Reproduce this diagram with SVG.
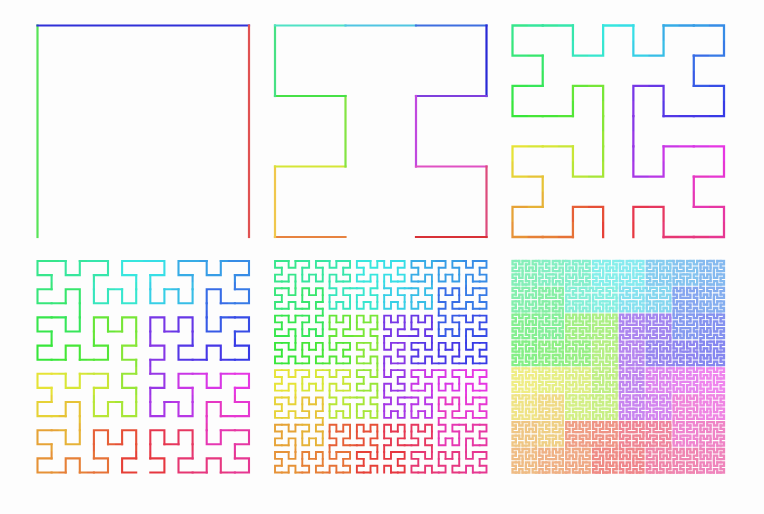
<svg xmlns="http://www.w3.org/2000/svg" xmlns:xlink="http://www.w3.org/1999/xlink" width="764" height="514" viewBox="0 0 764 514">
<style>
.p{fill:none;stroke-linecap:square;stroke-linejoin:miter}
.seg{fill:none;stroke-width:2.2;stroke-linecap:square}
</style>
<defs>
<path id="A1" class="p" d="M0,1V0H1V1"/>
<g id="A2"><use href="#A1" transform="matrix(0,-1,-1,0,1,3)"/><use href="#A1"/><use href="#A1" transform="translate(2,0)"/><use href="#A1" transform="matrix(0,1,1,0,2,2)"/><path class="p" d="M0,2V1M1,1H2M3,1V2"/></g>
<g id="A3"><use href="#A2" transform="matrix(0,-1,-1,0,3,7)"/><use href="#A2"/><use href="#A2" transform="translate(4,0)"/><use href="#A2" transform="matrix(0,1,1,0,4,4)"/><path class="p" d="M0,4V3M3,3H4M7,3V4"/></g>
<g id="A4"><use href="#A3" transform="matrix(0,-1,-1,0,7,15)"/><use href="#A3"/><use href="#A3" transform="translate(8,0)"/><use href="#A3" transform="matrix(0,1,1,0,8,8)"/><path class="p" d="M0,8V7M7,7H8M15,7V8"/></g>
<g id="A5"><use href="#A4" transform="matrix(0,-1,-1,0,15,31)"/><use href="#A4"/><use href="#A4" transform="translate(16,0)"/><use href="#A4" transform="matrix(0,1,1,0,16,16)"/><path class="p" d="M0,16V15M15,15H16M31,15V16"/></g>
<g id="M3"><use href="#A2" transform="matrix(0,-1,1,0,0,7)"/><use href="#A2" transform="matrix(0,-1,1,0,0,3)"/><use href="#A2" transform="matrix(0,1,-1,0,7,0)"/><use href="#A2" transform="matrix(0,1,-1,0,7,4)"/><path class="p" d="M3,4V3M3,0H4M4,3V4"/></g>
<g id="M4"><use href="#A3" transform="matrix(0,-1,1,0,0,15)"/><use href="#A3" transform="matrix(0,-1,1,0,0,7)"/><use href="#A3" transform="matrix(0,1,-1,0,15,0)"/><use href="#A3" transform="matrix(0,1,-1,0,15,8)"/><path class="p" d="M7,8V7M7,0H8M8,7V8"/></g>
<g id="M5"><use href="#A4" transform="matrix(0,-1,1,0,0,31)"/><use href="#A4" transform="matrix(0,-1,1,0,0,15)"/><use href="#A4" transform="matrix(0,1,-1,0,31,0)"/><use href="#A4" transform="matrix(0,1,-1,0,31,16)"/><path class="p" d="M15,16V15M15,0H16M16,15V16"/></g>
<g id="M6"><use href="#A5" transform="matrix(0,-1,1,0,0,63)"/><use href="#A5" transform="matrix(0,-1,1,0,0,31)"/><use href="#A5" transform="matrix(0,1,-1,0,63,0)"/><use href="#A5" transform="matrix(0,1,-1,0,63,32)"/><path class="p" d="M31,32V31M31,0H32M32,31V32"/></g>
<g id="field">
<rect x="0" y="0" width="1.05" height="1.05" fill="hsl(149,78%,56%)"/><rect x="1" y="0" width="1.05" height="1.05" fill="hsl(155,78%,56%)"/><rect x="2" y="0" width="1.05" height="1.05" fill="hsl(160,78%,56%)"/><rect x="3" y="0" width="1.05" height="1.05" fill="hsl(177,78%,56%)"/><rect x="4" y="0" width="1.05" height="1.05" fill="hsl(183,78%,56%)"/><rect x="5" y="0" width="1.05" height="1.05" fill="hsl(200,78%,56%)"/><rect x="6" y="0" width="1.05" height="1.05" fill="hsl(205,78%,56%)"/><rect x="7" y="0" width="1.05" height="1.05" fill="hsl(211,78%,56%)"/>
<rect x="0" y="1" width="1.05" height="1.05" fill="hsl(143,78%,56%)"/><rect x="1" y="1" width="1.05" height="1.05" fill="hsl(138,78%,56%)"/><rect x="2" y="1" width="1.05" height="1.05" fill="hsl(166,78%,56%)"/><rect x="3" y="1" width="1.05" height="1.05" fill="hsl(172,78%,56%)"/><rect x="4" y="1" width="1.05" height="1.05" fill="hsl(188,78%,56%)"/><rect x="5" y="1" width="1.05" height="1.05" fill="hsl(194,78%,56%)"/><rect x="6" y="1" width="1.05" height="1.05" fill="hsl(222,78%,56%)"/><rect x="7" y="1" width="1.05" height="1.05" fill="hsl(217,78%,56%)"/>
<rect x="0" y="2" width="1.05" height="1.05" fill="hsl(127,78%,56%)"/><rect x="1" y="2" width="1.05" height="1.05" fill="hsl(132,78%,56%)"/><rect x="2" y="2" width="1.05" height="1.05" fill="hsl(104,78%,56%)"/><rect x="3" y="2" width="1.05" height="1.05" fill="hsl(98,78%,56%)"/><rect x="4" y="2" width="1.05" height="1.05" fill="hsl(262,78%,56%)"/><rect x="5" y="2" width="1.05" height="1.05" fill="hsl(256,78%,56%)"/><rect x="6" y="2" width="1.05" height="1.05" fill="hsl(228,78%,56%)"/><rect x="7" y="2" width="1.05" height="1.05" fill="hsl(233,78%,56%)"/>
<rect x="0" y="3" width="1.05" height="1.05" fill="hsl(121,78%,56%)"/><rect x="1" y="3" width="1.05" height="1.05" fill="hsl(115,78%,56%)"/><rect x="2" y="3" width="1.05" height="1.05" fill="hsl(110,78%,56%)"/><rect x="3" y="3" width="1.05" height="1.05" fill="hsl(93,78%,56%)"/><rect x="4" y="3" width="1.05" height="1.05" fill="hsl(267,78%,56%)"/><rect x="5" y="3" width="1.05" height="1.05" fill="hsl(250,78%,56%)"/><rect x="6" y="3" width="1.05" height="1.05" fill="hsl(245,78%,56%)"/><rect x="7" y="3" width="1.05" height="1.05" fill="hsl(239,78%,56%)"/>
<rect x="0" y="4" width="1.05" height="1.05" fill="hsl(59,78%,56%)"/><rect x="1" y="4" width="1.05" height="1.05" fill="hsl(65,78%,56%)"/><rect x="2" y="4" width="1.05" height="1.05" fill="hsl(70,78%,56%)"/><rect x="3" y="4" width="1.05" height="1.05" fill="hsl(87,78%,56%)"/><rect x="4" y="4" width="1.05" height="1.05" fill="hsl(273,78%,56%)"/><rect x="5" y="4" width="1.05" height="1.05" fill="hsl(290,78%,56%)"/><rect x="6" y="4" width="1.05" height="1.05" fill="hsl(295,78%,56%)"/><rect x="7" y="4" width="1.05" height="1.05" fill="hsl(301,78%,56%)"/>
<rect x="0" y="5" width="1.05" height="1.05" fill="hsl(53,78%,56%)"/><rect x="1" y="5" width="1.05" height="1.05" fill="hsl(48,78%,56%)"/><rect x="2" y="5" width="1.05" height="1.05" fill="hsl(76,78%,56%)"/><rect x="3" y="5" width="1.05" height="1.05" fill="hsl(82,78%,56%)"/><rect x="4" y="5" width="1.05" height="1.05" fill="hsl(278,78%,56%)"/><rect x="5" y="5" width="1.05" height="1.05" fill="hsl(284,78%,56%)"/><rect x="6" y="5" width="1.05" height="1.05" fill="hsl(312,78%,56%)"/><rect x="7" y="5" width="1.05" height="1.05" fill="hsl(307,78%,56%)"/>
<rect x="0" y="6" width="1.05" height="1.05" fill="hsl(37,78%,56%)"/><rect x="1" y="6" width="1.05" height="1.05" fill="hsl(42,78%,56%)"/><rect x="2" y="6" width="1.05" height="1.05" fill="hsl(14,78%,56%)"/><rect x="3" y="6" width="1.05" height="1.05" fill="hsl(8,78%,56%)"/><rect x="4" y="6" width="1.05" height="1.05" fill="hsl(352,78%,56%)"/><rect x="5" y="6" width="1.05" height="1.05" fill="hsl(346,78%,56%)"/><rect x="6" y="6" width="1.05" height="1.05" fill="hsl(318,78%,56%)"/><rect x="7" y="6" width="1.05" height="1.05" fill="hsl(323,78%,56%)"/>
<rect x="0" y="7" width="1.05" height="1.05" fill="hsl(31,78%,56%)"/><rect x="1" y="7" width="1.05" height="1.05" fill="hsl(25,78%,56%)"/><rect x="2" y="7" width="1.05" height="1.05" fill="hsl(20,78%,56%)"/><rect x="3" y="7" width="1.05" height="1.05" fill="hsl(3,78%,56%)"/><rect x="4" y="7" width="1.05" height="1.05" fill="hsl(357,78%,56%)"/><rect x="5" y="7" width="1.05" height="1.05" fill="hsl(340,78%,56%)"/><rect x="6" y="7" width="1.05" height="1.05" fill="hsl(335,78%,56%)"/><rect x="7" y="7" width="1.05" height="1.05" fill="hsl(329,78%,56%)"/>
</g>
</defs>
<rect x="0" y="0" width="764" height="514" fill="#fdfdfd"/>

<g id="order1">
<line class="seg" x1="37.5" y1="237" x2="37.5" y2="25.5" stroke="hsl(120,72%,62%)"/>
<line class="seg" x1="37.5" y1="25.5" x2="249" y2="25.5" stroke="hsl(240,68%,52%)"/>
<line class="seg" x1="249" y1="25.5" x2="249" y2="237" stroke="hsl(0,70%,60%)"/>
</g>

<g id="order2">
<line class="seg" x1="345.5" y1="237" x2="275" y2="237" stroke="hsl(24,78%,58%)"/>
<line class="seg" x1="275" y1="237" x2="275" y2="166.5" stroke="hsl(45,85%,62%)"/>
<line class="seg" x1="275" y1="166.5" x2="345.5" y2="166.5" stroke="hsl(66,78%,56%)"/>
<line class="seg" x1="345.5" y1="166.5" x2="345.5" y2="96" stroke="hsl(96,75%,58%)"/>
<line class="seg" x1="345.5" y1="96" x2="275" y2="96" stroke="hsl(120,72%,58%)"/>
<line class="seg" x1="275" y1="96" x2="275" y2="25.5" stroke="hsl(144,72%,58%)"/>
<line class="seg" x1="275" y1="25.5" x2="345.5" y2="25.5" stroke="hsl(168,72%,60%)"/>
<line class="seg" x1="345.5" y1="25.5" x2="416" y2="25.5" stroke="hsl(192,72%,60%)"/>
<line class="seg" x1="416" y1="25.5" x2="486.5" y2="25.5" stroke="hsl(222,72%,56%)"/>
<line class="seg" x1="486.5" y1="25.5" x2="486.5" y2="96" stroke="hsl(240,68%,50%)"/>
<line class="seg" x1="486.5" y1="96" x2="416" y2="96" stroke="hsl(264,70%,56%)"/>
<line class="seg" x1="416" y1="96" x2="416" y2="166.5" stroke="hsl(288,70%,58%)"/>
<line class="seg" x1="416" y1="166.5" x2="486.5" y2="166.5" stroke="hsl(312,70%,60%)"/>
<line class="seg" x1="486.5" y1="166.5" x2="486.5" y2="237" stroke="hsl(340,68%,58%)"/>
<line class="seg" x1="486.5" y1="237" x2="416" y2="237" stroke="hsl(358,68%,52%)"/>
</g>

<g id="order3" transform="translate(512.5,25.5) scale(30.2143)">
<mask id="mk3" maskUnits="userSpaceOnUse" x="-1" y="-1" width="10" height="10"><use href="#M3" fill="none" stroke="#fff" stroke-width="0.0745"/></mask>
<g mask="url(#mk3)"><use href="#field" transform="translate(-0.5,-0.5)"/></g>
</g>

<g id="order4" transform="translate(37.5,261) scale(14.1)">
<mask id="mk4" maskUnits="userSpaceOnUse" x="-1" y="-1" width="18" height="18"><use href="#M4" fill="none" stroke="#fff" stroke-width="0.149"/></mask>
<g mask="url(#mk4)"><use href="#field" transform="translate(-0.5,-0.5) scale(2)"/></g>
</g>

<g id="order5" transform="translate(275,261) scale(6.82258)">
<mask id="mk5" maskUnits="userSpaceOnUse" x="-1" y="-1" width="34" height="34"><use href="#M5" fill="none" stroke="#fff" stroke-width="0.2785"/></mask>
<g mask="url(#mk5)"><use href="#field" transform="translate(-0.5,-0.5) scale(4)"/></g>
</g>

<g id="order6" transform="translate(512.5,261) scale(3.35714)" opacity="0.6">
<mask id="mk6" maskUnits="userSpaceOnUse" x="-1" y="-1" width="66" height="66"><use href="#M6" fill="none" stroke="#fff" stroke-width="0.68"/></mask>
<g mask="url(#mk6)"><use href="#field" transform="translate(-0.5,-0.5) scale(8)"/></g>
</g>
</svg>
